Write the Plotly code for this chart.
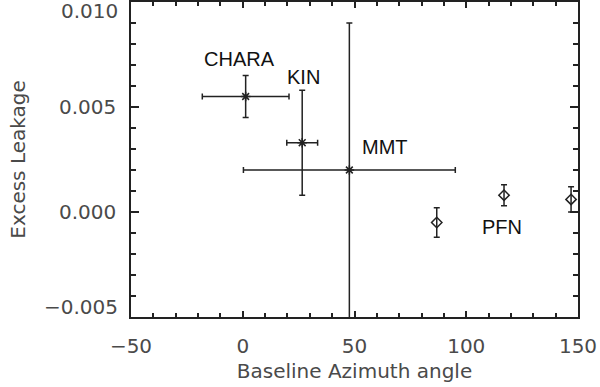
import plotly.graph_objects as go

# baseline azimuth (deg) and excess leakage, asterisk points
star_x = [1.3, 26.6, 47.7]
star_y = [0.0055, 0.0033, 0.0020]
star_xerr = [19.4, 6.9, 47.4]
star_yerr_up = [0.0010, 0.0025, 0.0070]
star_yerr_down = [0.0010, 0.0025, 0.0075]

# PFN diamond points
pfn_x = [86.8, 116.9, 146.9]
pfn_y = [-0.0005, 0.0008, 0.0006]
pfn_yerr = [0.0007, 0.0005, 0.0006]

label_text = ["CHARA", "KIN", "MMT", "PFN"]
label_x = [-1.4, 27.0, 63.6, 115.9]
label_y = [0.00727, 0.00644, 0.00308, -0.00073]

x_ticks = [-50, 0, 50, 100, 150]
y_ticks = [-0.005, 0.0, 0.005, 0.010]
y_ticktext = ["", "0.000", "0.005", ""]

ink = "#222222"
tick_font = dict(family="DejaVu Sans", size=20, color="#4a4a4a")

fig = go.Figure()
fig.add_trace(go.Scatter(
    x=star_x, y=star_y, mode="markers",
    marker=dict(symbol="asterisk-open", size=8, color=ink, line=dict(width=1.5, color=ink)),
    error_x=dict(type="data", array=star_xerr, color=ink, thickness=1.5, width=3),
    error_y=dict(type="data", array=star_yerr_up, arrayminus=star_yerr_down,
                 color=ink, thickness=1.5, width=3),
    showlegend=False,
))
fig.add_trace(go.Scatter(
    x=pfn_x, y=pfn_y, mode="markers",
    marker=dict(symbol="diamond-open", size=8, color=ink, line=dict(width=1.5, color=ink)),
    error_y=dict(type="data", array=pfn_yerr, color=ink, thickness=1.5, width=3),
    showlegend=False,
))

for t, x, y in zip(label_text, label_x, label_y):
    fig.add_annotation(x=x, y=y, text=t, showarrow=False,
                       font=dict(family="Liberation Sans", size=20, color="#111111"))

# end labels of the y axis sit inside the frame, as in the IDL plot
fig.add_annotation(xref="paper", yref="paper", x=0, y=1, yshift=-9, xshift=-11,
                   xanchor="right", yanchor="middle", text="0.010",
                   showarrow=False, font=tick_font)
fig.add_annotation(xref="paper", yref="paper", x=0, y=0, yshift=10, xshift=-11,
                   xanchor="right", yanchor="middle", text="\u22120.005",
                   showarrow=False, font=tick_font)

fig.update_xaxes(
    range=[-50, 150], tickvals=x_ticks, ticks="inside", ticklen=6, tickwidth=1.5,
    tickcolor=ink, minor=dict(dtick=10, ticks="inside", ticklen=4, tickwidth=1.5, tickcolor=ink),
    showline=True, linecolor=ink, linewidth=1.5, mirror="allticks", automargin=False,
    showgrid=False, zeroline=False, tickfont=tick_font, ticklabelstandoff=10,
    title=dict(text="Baseline Azimuth angle", font=tick_font, standoff=7),
)
fig.update_yaxes(
    range=[-0.005, 0.010], tickvals=y_ticks, ticktext=y_ticktext, ticks="inside",
    ticklen=8, tickwidth=1.5, tickcolor=ink,
    minor=dict(dtick=0.001, ticks="inside", ticklen=5, tickwidth=1.5, tickcolor=ink),
    showline=True, linecolor=ink, linewidth=1.5, mirror="allticks", automargin=False,
    showgrid=False, zeroline=False, tickfont=tick_font, ticklabelstandoff=9,
    title=dict(text="Excess Leakage", font=tick_font, standoff=28),
)
fig.update_layout(
    width=600, height=387,
    margin=dict(l=131, r=22, t=2, b=70),
    plot_bgcolor="white", paper_bgcolor="white",
)
fig.write_html("out.html", config={"displayModeBar": False},
               post_script="document.body.style.margin='0';document.body.style.overflow='hidden';")
